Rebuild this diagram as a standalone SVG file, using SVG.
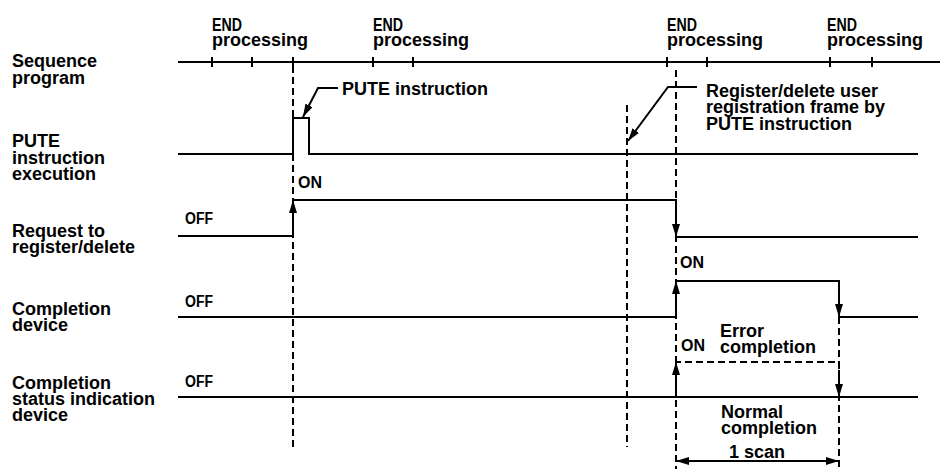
<svg xmlns="http://www.w3.org/2000/svg" width="945" height="469" viewBox="0 0 945 469">
<style>
text{font-family:"Liberation Sans",Arial,sans-serif;font-weight:bold;fill:#000}
.lb{font-size:18px}
.st{font-size:16px}
.sig{fill:none;stroke:#000;stroke-width:2}
.dash{fill:none;stroke:#000;stroke-width:2;stroke-dasharray:7 4}
.arr{fill:none;stroke:#000;stroke-width:2;marker-end:url(#ah)}
</style>
<defs>
<marker id="ah" markerUnits="userSpaceOnUse" markerWidth="14" markerHeight="8" refX="13" refY="4" orient="auto-start-reverse">
<path d="M0,0 L13,4 L0,8 z" fill="#000"/>
</marker>
</defs>
<rect width="945" height="469" fill="#fff"/>

<g id="row-labels" class="lb">
<text class="lb" x="12" y="67">Sequence</text>
<text class="lb" x="12" y="83.5">program</text>
<text class="lb" x="12" y="147">PUTE</text>
<text class="lb" x="12" y="163.5">instruction</text>
<text class="lb" x="12" y="180">execution</text>
<text class="lb" x="12" y="237">Request to</text>
<text class="lb" x="12" y="253">register/delete</text>
<text class="lb" x="12" y="315">Completion</text>
<text class="lb" x="12" y="331">device</text>
<text class="lb" x="12" y="389">Completion</text>
<text class="lb" x="12" y="405">status indication</text>
<text class="lb" x="12" y="421">device</text>
</g>

<g id="end-labels">
<text class="lb" x="212" y="31" textLength="30" lengthAdjust="spacingAndGlyphs">END</text>
<text class="lb" x="212" y="46">processing</text>
<text class="lb" x="373" y="31" textLength="30" lengthAdjust="spacingAndGlyphs">END</text>
<text class="lb" x="373" y="46">processing</text>
<text class="lb" x="667" y="31" textLength="30" lengthAdjust="spacingAndGlyphs">END</text>
<text class="lb" x="667" y="46">processing</text>
<text class="lb" x="827" y="31" textLength="30" lengthAdjust="spacingAndGlyphs">END</text>
<text class="lb" x="827" y="46">processing</text>
</g>

<g id="dashed-guides">
<path class="dash" d="M293,66 V447"/>
<path class="dash" d="M627,105 V447"/>
<path class="dash" d="M676,70 V469"/>
<path class="dash" d="M839,317 V469"/>
</g>

<g id="seq-program">
<path class="sig" d="M178,62 H940"/>
<path class="sig" d="M212,57 V67 M252,57 V67 M293,57 V67 M373,57 V67 M413,57 V67 M667,57 V67 M707,57 V67 M830,57 V67 M872,57 V67"/>
</g>

<g id="pute-exec">
<path class="sig" d="M178,154 H293 V118 H309 V154 H918"/>
</g>

<g id="request">
<path class="sig" d="M178,236 H293 V200 H676 V237 H918"/>
<text class="st" x="185" y="224" textLength="28" lengthAdjust="spacingAndGlyphs">OFF</text>
<text class="st" x="298" y="188">ON</text>
</g>

<g id="completion-device">
<path class="sig" d="M178,317 H676 V281 H839 V317 H918"/>
<text class="st" x="185" y="307" textLength="28" lengthAdjust="spacingAndGlyphs">OFF</text>
<text class="st" x="680" y="268">ON</text>
</g>

<g id="completion-status">
<path class="sig" d="M178,397 H918"/>
<path class="dash" d="M676,397 V362 H839 V397"/>
<text class="st" x="185" y="387" textLength="28" lengthAdjust="spacingAndGlyphs">OFF</text>
<text class="st" x="681" y="351">ON</text>
<text class="lb" x="720" y="337">Error</text>
<text class="lb" x="720" y="352.5">completion</text>
<text class="lb" x="721" y="418">Normal</text>
<text class="lb" x="721" y="433.5">completion</text>
</g>

<g id="connectors">
<path class="arr" d="M293,236 V200"/>
<path class="arr" d="M676,200 V237"/>
<path class="arr" d="M676,317 V281"/>
<path class="arr" d="M839,281 V317"/>
<path class="arr" d="M676,390 V362"/>
<path class="arr" d="M839,370 V397"/>
<path class="sig" d="M676,461 H839" marker-start="url(#ah)" marker-end="url(#ah)"/>
<path class="arr" d="M338,88 H318 L303,117"/>
<path class="arr" d="M697,87 H668 L628,141"/>
</g>

<g id="annotations">
<text class="lb" x="342" y="95">PUTE instruction</text>
<text class="lb" x="706" y="97">Register/delete user</text>
<text class="lb" x="706" y="113">registration frame by</text>
<text class="lb" x="706" y="129.5">PUTE instruction</text>
<text class="lb" x="729" y="458">1 scan</text>
</g>
</svg>
